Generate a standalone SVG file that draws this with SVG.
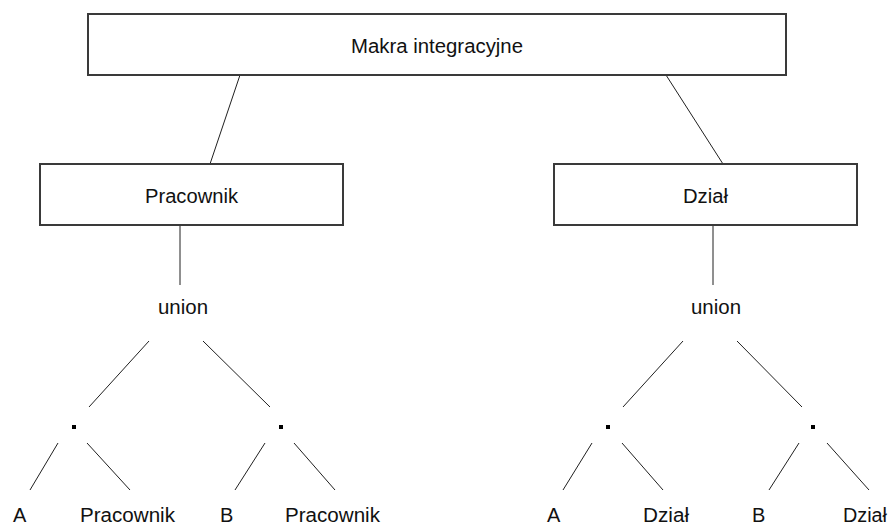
<svg xmlns="http://www.w3.org/2000/svg" width="892" height="527" viewBox="0 0 892 527">
  <style>
    .box { fill: #ffffff; stroke: #3a3a3a; stroke-width: 2; }
    .edge { stroke: #202020; stroke-width: 1; fill: none; }
    .lbl { font-family: "Liberation Sans", Arial, sans-serif; font-size: 20px; fill: #111111; }
    .mid { text-anchor: middle; }
    .dot { fill: #000000; }
  </style>
  <rect width="892" height="527" fill="#ffffff"/>

  <!-- connectors -->
  <g id="connectors">
    <line class="edge" x1="240" y1="75" x2="210" y2="164"/>
    <line class="edge" x1="666" y1="75" x2="723" y2="164"/>
    <line class="edge" x1="180" y1="225" x2="180" y2="285"/>
    <line class="edge" x1="713" y1="225" x2="713" y2="285"/>
    <!-- left union subtree -->
    <line class="edge" x1="149" y1="341" x2="89" y2="407"/>
    <line class="edge" x1="203" y1="341" x2="270" y2="407"/>
    <line class="edge" x1="58" y1="443" x2="30" y2="490"/>
    <line class="edge" x1="87" y1="443" x2="130" y2="490"/>
    <line class="edge" x1="265" y1="443" x2="235" y2="490"/>
    <line class="edge" x1="294" y1="443" x2="335" y2="490"/>
    <!-- right union subtree -->
    <line class="edge" x1="683" y1="341" x2="623" y2="407"/>
    <line class="edge" x1="737" y1="341" x2="802" y2="407"/>
    <line class="edge" x1="592" y1="443" x2="563" y2="490"/>
    <line class="edge" x1="622" y1="443" x2="663" y2="490"/>
    <line class="edge" x1="799" y1="443" x2="769" y2="490"/>
    <line class="edge" x1="827" y1="443" x2="869" y2="490"/>
  </g>

  <g id="makra">
    <rect class="box" x="88" y="14" width="698" height="61"/>
    <text class="lbl mid" x="437" y="53" textLength="172" lengthAdjust="spacingAndGlyphs">Makra integracyjne</text>
  </g>
  <g id="pracownik">
    <rect class="box" x="40" y="164" width="303" height="61"/>
    <text class="lbl mid" x="191.5" y="203" textLength="93" lengthAdjust="spacingAndGlyphs">Pracownik</text>
  </g>
  <g id="dzial">
    <rect class="box" x="554" y="164" width="303" height="61"/>
    <text class="lbl mid" x="705.5" y="203" textLength="45" lengthAdjust="spacingAndGlyphs">Dział</text>
  </g>

  <g id="union-left">
    <text class="lbl mid" x="183" y="314" textLength="50" lengthAdjust="spacingAndGlyphs">union</text>
  </g>
  <g id="union-right">
    <text class="lbl mid" x="716" y="314" textLength="50" lengthAdjust="spacingAndGlyphs">union</text>
  </g>

  <g id="dot-left-a"><rect class="dot" x="72" y="425" width="4" height="4"/></g>
  <g id="dot-left-b"><rect class="dot" x="279" y="425" width="4" height="4"/></g>
  <g id="dot-right-a"><rect class="dot" x="606" y="425" width="4" height="4"/></g>
  <g id="dot-right-b"><rect class="dot" x="811" y="425" width="4" height="4"/></g>

  <g id="leaf-l1"><text class="lbl" x="13" y="522">A</text></g>
  <g id="leaf-l2"><text class="lbl" x="80" y="522" textLength="95" lengthAdjust="spacingAndGlyphs">Pracownik</text></g>
  <g id="leaf-l3"><text class="lbl" x="220" y="522">B</text></g>
  <g id="leaf-l4"><text class="lbl" x="285" y="522" textLength="95" lengthAdjust="spacingAndGlyphs">Pracownik</text></g>
  <g id="leaf-r1"><text class="lbl" x="547" y="522">A</text></g>
  <g id="leaf-r2"><text class="lbl" x="643" y="522" textLength="46" lengthAdjust="spacingAndGlyphs">Dział</text></g>
  <g id="leaf-r3"><text class="lbl" x="752" y="522">B</text></g>
  <g id="leaf-r4"><text class="lbl" x="843" y="522" textLength="44" lengthAdjust="spacingAndGlyphs">Dział</text></g>
</svg>
